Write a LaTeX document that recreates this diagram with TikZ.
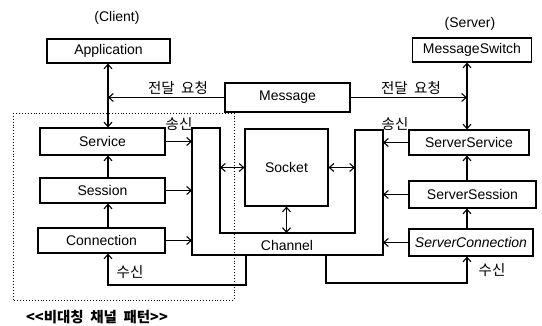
\documentclass[tikz,border=0pt]{standalone}
\usepackage{fontspec}
\setmainfont{Liberation Sans}
\newfontfamily\kr{Noto Sans CJK KR}
\usetikzlibrary{arrows.meta,calc}
\begin{document}
\begin{tikzpicture}[x=1pt,y=-1pt,
  font=\fontsize{14}{16}\selectfont,
  line width=1.1pt,
  >={Straight Barb[length=4.5pt,width=8pt]},
  box/.style={draw,inner sep=0pt,line width=1.1pt},
  lbl/.style={inner sep=0pt,font=\kr\fontsize{14.5}{16}\selectfont},
  note/.style={inner sep=0pt},
]
\fill[white] (0,0) rectangle (542,326);
\useasboundingbox (0,0) rectangle (542,326);

% component boxes
\node[box,minimum width=123pt,minimum height=24pt] (app) at (108.5,51) {Application};
\node[box,minimum width=119pt,minimum height=24pt] (msgsw) at (472,50) {MessageSwitch};
\node[box,minimum width=125pt,minimum height=29pt] (message) at (287.5,97.5) {Message};
\node[box,minimum width=125pt,minimum height=27pt] (service) at (102.5,141.5) {Service};
\node[box,minimum width=125pt,minimum height=25pt] (session) at (102.5,190.5) {Session};
\node[box,minimum width=127pt,minimum height=25pt] (connection) at (101.5,240.5) {Connection};
\node[box,minimum width=120pt,minimum height=25pt] (sservice) at (469,142.5) {ServerService};
\node[box,minimum width=127pt,minimum height=27pt] (ssession) at (472.5,194.5) {ServerSession};
\node[box,minimum width=124pt,minimum height=27pt] (sconn) at (471,242.5) {\itshape ServerConnection};
\node[box,minimum width=83pt,minimum height=77pt] (socket) at (286.5,167.5) {Socket};

% the U-shaped channel around the socket
\coordinate (c1) at (192,128);
\coordinate (c2) at (192,255);
\coordinate (c3) at (383,255);
\coordinate (c4) at (383,130);
\coordinate (c5) at (355,130);
\coordinate (c6) at (355,233);
\coordinate (c7) at (220,233);
\coordinate (c8) at (220,128);
\draw (c1) -- (c2) -- (c3) -- (c4) -- (c5) -- (c6) -- (c7) -- (c8) -- cycle;
\node[note] (chan) at (287,245) {Channel};

% client-side grouping
\draw[dotted,line width=0.9pt] (13,113) rectangle (234,300);

% vertical lines of the two stacks
\coordinate (cx) at (108,0);
\coordinate (sx) at (467,0);

\draw[<->] (app.south -| cx) -- (service.north -| cx);
\draw[->] (session.north -| cx) -- (service.south -| cx);
\draw[->] (connection.north -| cx) -- (session.south -| cx);
\draw[<->] (msgsw.south -| sx) -- (sservice.north -| sx);
\draw[->] (ssession.north -| sx) -- (sservice.south -| sx);
\draw[->] (sconn.north -| sx) -- (ssession.south -| sx);

% message forwarding
\draw[->] (message.west) -- (message.west -| cx);
\draw[->] (message.east) -- (message.east -| sx);

% sending into the channel
\draw[->] (service.east) -- (service.east -| c1);
\draw[->] (session.east) -- (session.east -| c1);
\draw[->] (connection.east) -- (connection.east -| c1);
\draw[->] (sservice.west) -- (sservice.west -| c4);
\draw[->] (ssession.west) -- (ssession.west -| c4);
\draw[->] (sconn.west) -- (sconn.west -| c4);

% socket links
\draw[<->] (socket.west -| c8) -- (socket.west);
\draw[<->] (socket.east) -- (socket.east -| c5);
\draw[<->] (socket.south) -- (socket.south |- c7);

% receiving from the channel
\coordinate (b1) at (246,255);
\coordinate (b2) at (326,255);
\draw[->] (b1) -- ++(0,30) -| (connection.south -| cx);
\draw[->] (b2) -- ++(0,28) -| (sconn.south -| sx);

% labels
\node[note] (client) at (117,18) {(Client)};
\node[note] (server) at (470,24) {(Server)};
\node[lbl] (t1) at (178,88) {전달\hspace{0.45em}요청};
\node[lbl] (t2) at (411,88) {전달\hspace{0.45em}요청};
\node[lbl] (s1) at (179,124) {송신};
\node[lbl] (s2) at (395,124) {송신};
\node[lbl] (r1) at (130,272) {수신};
\node[lbl] (r2) at (492,270) {수신};
\node[lbl,font=\kr\bfseries\fontsize{14.5}{16}\selectfont] (title) at (97,317) {<<비대칭\hspace{0.45em}채널\hspace{0.45em}패턴>>};
\end{tikzpicture}
\end{document}
